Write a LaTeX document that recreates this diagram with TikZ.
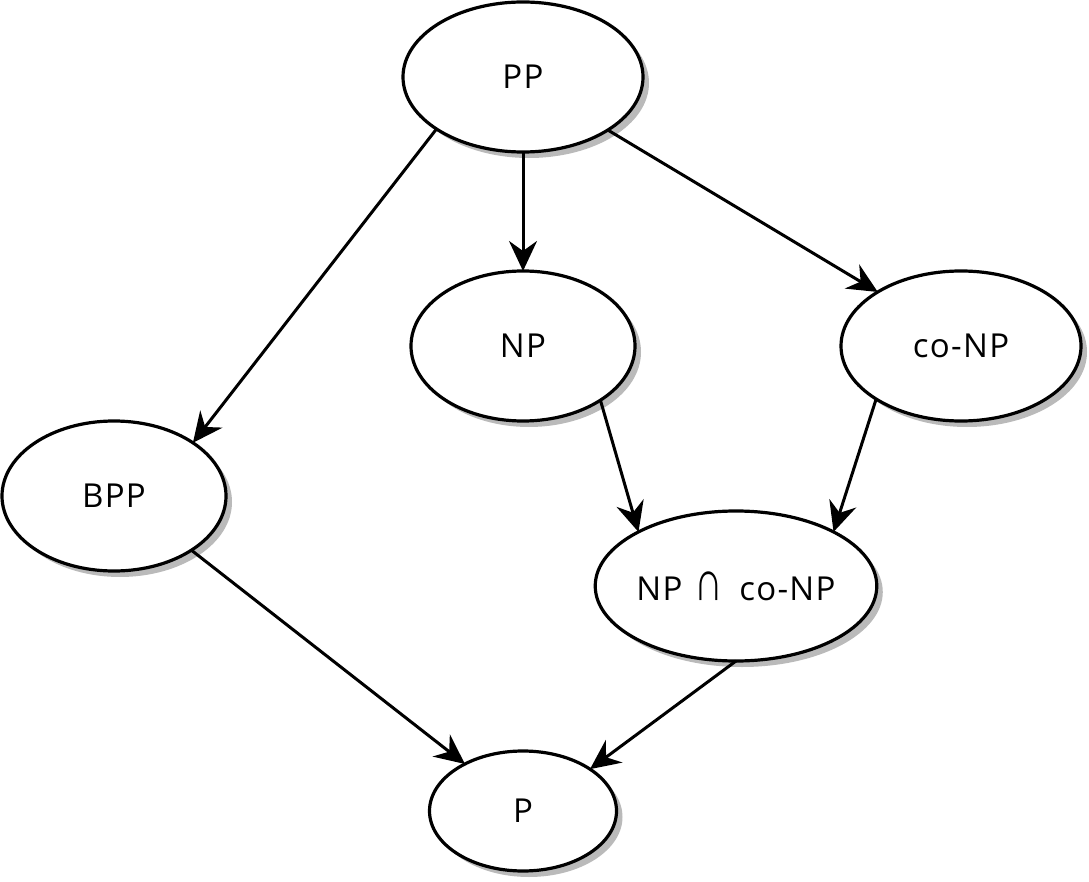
\documentclass[tikz,border=0pt]{standalone}
\usepackage{fontspec}
\usepackage{graphicx}
\setmainfont[LetterSpace=4]{Open Sans}
\newfontfamily\symfont{Liberation Sans}
\usetikzlibrary{shapes.geometric,shadows,arrows.meta}
\begin{document}
\begin{tikzpicture}[x=1pt,y=-1pt,
  cls/.style={ellipse,draw=black,line width=3.2pt,fill=white,inner sep=0pt,outer sep=0pt,
    font=\fontsize{33}{40}\selectfont,
    drop shadow={shadow xshift=6pt,shadow yshift=-6pt,fill=black!27,opacity=1}},
  arr/.style={line width=3pt,-{Stealth[length=30pt,width=28pt,inset=10pt]}}]
\useasboundingbox (0,0) rectangle (1089,882);
\node[cls,minimum width=240pt,minimum height=150pt] (PP) at (523,77) {PP};
\node[cls,minimum width=224pt,minimum height=150pt] (NP) at (523,346) {NP};
\node[cls,minimum width=240pt,minimum height=150pt] (coNP) at (961,346) {co-NP\hspace{14pt}};
\node[cls,minimum width=224pt,minimum height=150pt] (BPP) at (114,496) {BPP};
\node[cls,minimum width=270pt,minimum height=150pt] (NPc) at (736,586) {NP\hspace{0.35em}{\symfont\fontsize{38}{40}\selectfont\scalebox{1.05}[1.5]{∩}}\hspace{0.5em}co-NP\hspace{12pt}};
\node[cls,minimum width=187pt,minimum height=120pt] (P) at (523,811) {P};
\draw[arr] (PP.211.9) -- (BPP.34.4);
\draw[arr] (PP.south) -- (NP.north);
\draw[arr] (PP.328.4) -- (coNP.147.8);
\draw[arr] (NP.325.5) -- (NPc.151.1);
\draw[arr] (coNP.212.6) -- (NPc.29.2);
\draw[arr] (BPP.325.6) -- (P.141.5);
\draw[arr] (NPc.south) -- (P.32.7);
\end{tikzpicture}
\end{document}
